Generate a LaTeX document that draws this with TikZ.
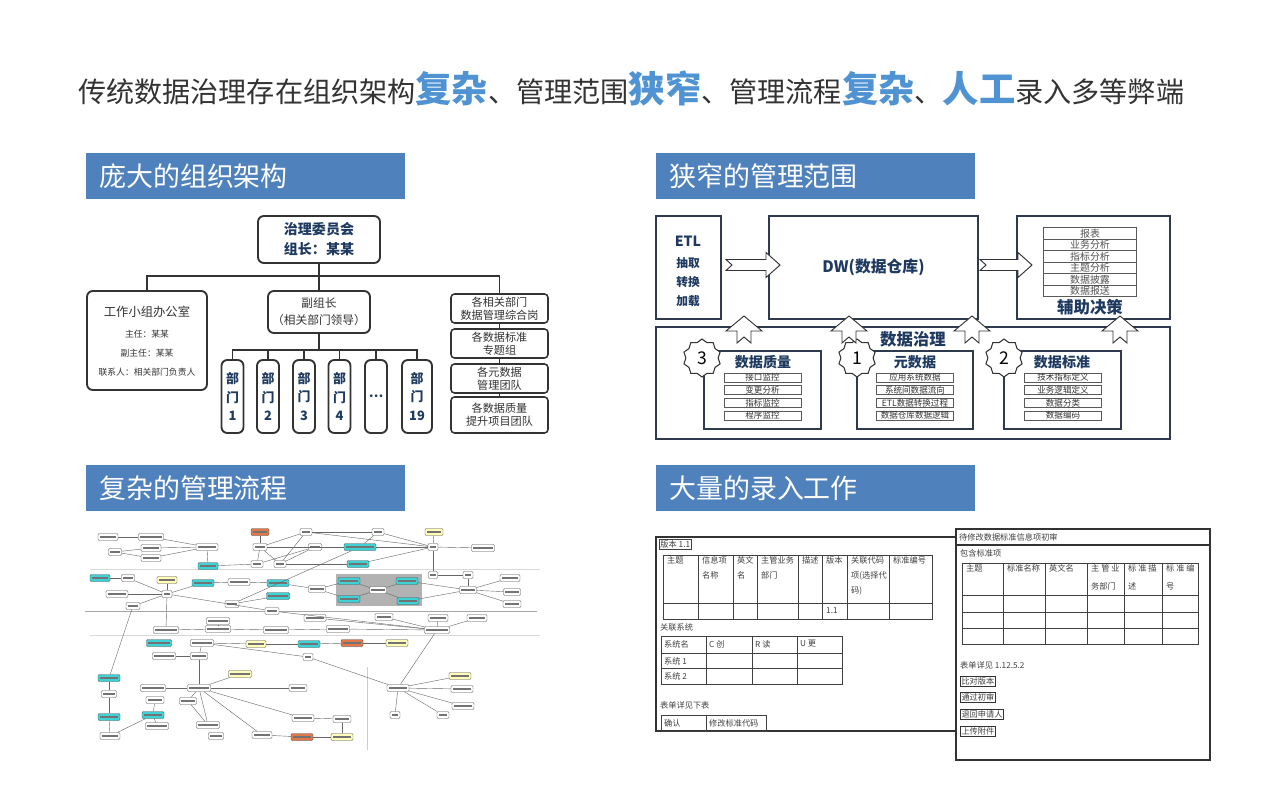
\documentclass[tikz,border=0pt]{standalone}
\usepackage{fontspec}
\setmainfont{Noto Sans CJK SC}
\usetikzlibrary{shapes.geometric,calc}

\def\u{0.03cm}
\definecolor{hdrblue}{HTML}{4F81BD}
\definecolor{ttlblue}{HTML}{4F93D2}
\definecolor{navy}{HTML}{1F3A60}
\definecolor{ink}{HTML}{333333}
\definecolor{boxline}{HTML}{2E3A4E}
\definecolor{flcyan}{HTML}{3ED2D6}
\definecolor{flyellow}{HTML}{FFFFB8}
\definecolor{florange}{HTML}{E0784A}
\newcommand{\hlt}[1]{{\color{ttlblue}\bfseries\fontsize{31}{31}\selectfont #1}}

\tikzset{
  hdrbar/.style={fill=hdrblue, text=white, anchor=north west, minimum height=46*\u,
    text width=293*\u, inner xsep=13*\u, align=left, font=\fontsize{23}{26}\selectfont},
  obox/.style={draw=ink, line width=1.6pt, rounded corners=5pt, fill=white, align=center,
    text=ink, inner sep=0pt},
  oline/.style={draw=ink, line width=1.6pt},
  dbox/.style={obox, text=navy, font=\bfseries\fontsize{11}{15.6}\selectfont,
    minimum height=73*\u, minimum width=22*\u},
  rbox/.style={obox, rounded corners=3pt, line width=1.3pt, minimum width=97*\u,
    minimum height=29*\u, font=\fontsize{9.5}{11}\selectfont},
  tbox/.style={draw=boxline, line width=1.3pt, fill=white, inner sep=0pt},
  navytxt/.style={text=navy, inner sep=0pt},
  gitem/.style={draw=black!65, line width=0.5pt, fill=white, minimum width=77*\u,
    minimum height=9*\u, inner sep=0pt, font=\fontsize{7.3}{8}\selectfont, text=ink},
  ditem/.style={draw=black!65, line width=0.6pt, fill=white, minimum width=93*\u,
    minimum height=11.5*\u, inner sep=0pt, font=\fontsize{8.5}{9}\selectfont, text=ink!85},
  blk/.style={draw=ink, line width=0.8pt, fill=white},
  seal/.style={star, star points=10, star point ratio=1.18, draw=ink, line width=0.9pt,
    fill=white, minimum size=38*\u, inner sep=0pt, font=\fontsize{15}{15}\selectfont},
  fframe/.style={draw=black!80, line width=1.1pt},
  fline/.style={draw=black!75, line width=0.5pt},
  ftxt/.style={font=\fontsize{7}{12.8}\selectfont, text=black!75, anchor=west, inner sep=0pt},
  fhead/.style={ftxt, anchor=north west, align=left},
  fbtn/.style={ftxt, draw=black!80, line width=0.6pt, inner sep=1pt},
  fw/.style={draw=black!70, line width=0.3pt, fill=white, rounded corners=1pt,
    minimum height=7*\u, inner sep=0pt,
    path picture={\draw[black!55, line width=1.3pt]
      ([xshift=1.5pt]path picture bounding box.west) -- ([xshift=-1.5pt]path picture bounding box.east);}},
  fc/.style={fw, fill=flcyan},
  fy/.style={fw, fill=flyellow},
  fo/.style={fw, fill=florange},
  flline/.style={draw=black!60, line width=0.35pt}
}

\begin{document}
\begin{tikzpicture}[x=0.03cm, y=-0.03cm]
  \useasboundingbox (0,0) rectangle (1280,789);
  \fill[white] (0,0) rectangle (1280,789);

  % Title
  \node[anchor=west, text=ink, font=\fontsize{24}{28}\selectfont, inner sep=0pt] (title) at (78,88)
    {传统数据治理存在组织架构\hlt{复杂}、管理范围\hlt{狭窄}、管理流程\hlt{复杂}、\hlt{人工}录入多等弊端};

  % Section bars
  \node[hdrbar] (hdrorg) at (86,153) {庞大的组织架构};
  \node[hdrbar] (hdrscope) at (656,153) {狭窄的管理范围};
  \node[hdrbar] (hdrflow) at (86,465) {复杂的管理流程};
  \node[hdrbar] (hdrentry) at (656,465) {大量的录入工作};

  % Organisation chart
  \node[obox, minimum width=122*\u, minimum height=47*\u, text=navy,
    font=\bfseries\fontsize{12}{17}\selectfont] (board) at (319,239.5) {治理委员会\\组长：某某};
  \node[obox, minimum width=120*\u, minimum height=99*\u] (office) at (147,340.5) {};
  \node[text=ink, font=\fontsize{10.5}{12}\selectfont] (officet) at (147,312) {工作小组办公室};
  \node[text=ink, font=\fontsize{7.5}{9}\selectfont] (officea) at (147,334) {主任：某某};
  \node[text=ink, font=\fontsize{7.5}{9}\selectfont] (officeb) at (147,353) {副主任：某某};
  \node[text=ink, font=\fontsize{7.5}{9}\selectfont] (officec) at (147,372) {联系人：相关部门负责人};
  \node[obox, minimum width=102*\u, minimum height=42*\u, font=\fontsize{10}{14.5}\selectfont]
    (vice) at (319,312) {副组长\\（相关部门领导）};
  \node[dbox] (d1) at (232.5,396.5) {部\\门\\1};
  \node[dbox] (d2) at (268,396.5) {部\\门\\2};
  \node[dbox] (d3) at (304,396.5) {部\\门\\3};
  \node[dbox] (d4) at (339.5,396.5) {部\\门\\4};
  \node[dbox] (d5) at (376,396.5) {…};
  \node[dbox, minimum width=30*\u] (d6) at (417,396.5) {部\\门\\19};
  \node[rbox] (r1) at (499.5,308.5) {各相关部门\\数据管理综合岗};
  \node[rbox] (r2) at (499.5,343.5) {各数据标准\\专题组};
  \node[rbox] (r3) at (499.5,378.5) {各元数据\\管理团队};
  \node[rbox, minimum height=36*\u] (r4) at (499.5,415) {各数据质量\\提升项目团队};

  \coordinate (bus) at (319,276);
  \draw[oline] (board.south) -- (vice.north);
  \draw[oline] (office.north) |- (bus) -| (r1.north);
  \draw[oline] (vice.south) -- ++(0,16) coordinate (dbus);
  \draw[oline] (d1.north) |- (dbus) -| (d6.north);
  \foreach \n in {d2,d3,d4,d5}
    \draw[oline] (\n.north) -- (\n.north |- dbus);
  \draw[oline] (r1) -- (r2);
  \draw[oline] (r2) -- (r3);
  \draw[oline] (r3) -- (r4);

  % Management scope
  \node[tbox, minimum width=65*\u, minimum height=103*\u] (etl) at (688.5,267.5) {};
  \node[navytxt, font=\bfseries\fontsize{12}{12}\selectfont] (etlt) at (688,241) {ETL};
  \node[navytxt, font=\bfseries\fontsize{10}{10}\selectfont] (etla) at (688,263) {抽取};
  \node[navytxt, font=\bfseries\fontsize{10}{10}\selectfont] (etlb) at (688,282) {转换};
  \node[navytxt, font=\bfseries\fontsize{10}{10}\selectfont] (etlc) at (688,301) {加载};
  \node[tbox, minimum width=209*\u, minimum height=103*\u, text=navy,
    font=\bfseries\fontsize{13.5}{14}\selectfont] (dw) at (873.5,267.5) {DW(数据仓库)};
  \node[tbox, minimum width=153*\u, minimum height=103*\u] (dec) at (1093.5,267.5) {};
  \foreach \t [count=\i] in {报表,业务分析,指标分析,主题分析,数据披露,数据报送}
    \node[ditem] (k\i) at (1090,{222+11.5*\i}) {\t};
  \node[navytxt, font=\bfseries\fontsize{14}{14}\selectfont] (dect) at (1090,307) {辅助决策};

  \node[tbox, minimum width=514*\u, minimum height=112*\u] (gov) at (913,383) {};
  \node[navytxt, font=\bfseries\fontsize{14}{14}\selectfont] (govt) at (913,339) {数据治理};
  \node[tbox, minimum width=117*\u, minimum height=78*\u] (qual) at (762.5,390) {};
  \node[tbox, minimum width=116*\u, minimum height=78*\u] (meta) at (915,390) {};
  \node[tbox, minimum width=117*\u, minimum height=78*\u] (std) at (1062.5,390) {};
  \node[navytxt, font=\bfseries\fontsize{12}{12}\selectfont] (qualt) at (763,362) {数据质量};
  \node[navytxt, font=\bfseries\fontsize{12}{12}\selectfont] (metat) at (915,362) {元数据};
  \node[navytxt, font=\bfseries\fontsize{12}{12}\selectfont] (stdt) at (1062,362) {数据标准};
  \foreach \t [count=\i] in {接口监控,变更分析,指标监控,程序监控}
    \node[gitem] (q\i) at (762.5,{365+12.6*\i}) {\t};
  \foreach \t [count=\i] in {应用系统数据,系统间数据流向,ETL数据转换过程,数据仓库数据逻辑}
    \node[gitem] (m\i) at (915,{365+12.6*\i}) {\t};
  \foreach \t [count=\i] in {技术指标定义,业务逻辑定义,数据分类,数据编码}
    \node[gitem] (s\i) at (1063,{365+12.6*\i}) {\t};
  \node[seal] (seal3) at (702,358) {3};
  \node[seal] (seal1) at (857,358) {1};
  \node[seal] (seal2) at (1004,358) {2};

  % Block arrows
  \foreach \a/\b in {726/780, 980/1032}
    \draw[blk] (\a,259.5) -- ({\b-14},259.5) -- ({\b-14},252.5) -- (\b,265) -- ({\b-14},277.5)
      -- ({\b-14},270.5) -- (\a,270.5) -- ({\a+6},265) -- cycle;
  \foreach \c in {744,849,972,1120}
    \draw[blk] (\c,316) -- ({\c+18},331) -- ({\c+7},331) -- ({\c+7},343) -- (\c,337)
      -- ({\c-7},343) -- ({\c-7},331) -- ({\c-18},331) -- cycle;

  % Management flow (texts too small to read)
  \draw[black!15, line width=0.5pt] (90,569) -- (540,569);
  \draw[black!35, line width=0.6pt] (85,611) -- (537,611);
  \draw[black!15, line width=0.5pt] (90,635) -- (540,635);
  \draw[black!20, line width=0.5pt] (367,667) -- (367,750);
  \fill[black!30] (336,574) rectangle (422,606);

  \foreach \n/\x/\y/\w in {f1/108/537/20, f2/151/537/25, f3/115/552/13, f4/151/548/20,
      f5/151/558/20, f6/207/547/22, f9/260/547/14, f10/257/564/12, f11/280/564/12,
      f12/306/532/12, f13/315/547/13, f15/378/532/12, f18/433/547/10, f19/483/548/23,
      f20/433/575/9, f21/468/575/10, f23/128/578/13, f25/167/594/10, f26/117/594/22,
      f27/133/606/14, f29/239/582/22, f32/232/604/14, f33/317/589/17, f36/378/590/17,
      f39/468/590/17, f40/510/578/20, f41/512/592/17, f42/512/604/18, f43/272/611/14,
      f44/166/630/25, f45/218/621/23, f46/218/629/25, f47/276/630/25, f48/338/629/23,
      f49/315/618/22, f50/384/617/18, f51/438/618/20, f52/477/618/20, f53/437/630/25,
      f55/202/643/23, f60/164/656/23, f61/199/656/17, f62/308/657/10, f65/153/688/25,
      f66/199/688/23, f67/298/688/18, f68/398/688/22, f70/462/689/22, f71/463/706/22,
      f72/109/694/15, f73/155/700/18, f74/188/701/17, f77/208/725/23, f78/157/726/23,
      f79/110/736/20, f80/216/736/15, f81/262/735/20, f84/303/718/22, f85/342/719/18,
      f86/395/715/10, f87/443/715/12}
    \node[fw, minimum width=\w*\u] (\n) at (\x,\y) {};
  \foreach \n/\x/\y/\w in {f7/208/566/20, f14/360/547/32, f16/358/564/22, f22/100/578/20,
      f28/203/583/22, f30/278/583/22, f31/278/596/23, f34/349/581/22, f35/349/599/22,
      f37/407/581/22, f38/408/601/22, f54/159/643/25, f57/309/644/22, f63/109/678/22,
      f75/153/715/22, f76/109/717/22}
    \node[fc, minimum width=\w*\u] (\n) at (\x,\y) {};
  \foreach \n/\x/\y/\w in {f17/434/532/18, f24/167/580/20, f56/256/644/20, f59/397/643/22,
      f64/240/674/23, f69/460/676/22, f83/342/737/22}
    \node[fy, minimum width=\w*\u] (\n) at (\x,\y) {};
  \foreach \n/\x/\y/\w in {f8/260/532/18, f58/352/643/22, f82/302/737/22}
    \node[fo, minimum width=\w*\u] (\n) at (\x,\y) {};

  \foreach \a/\b in {f1/f2, f3/f4, f3/f5, f2/f6, f4/f6, f5/f6, f6/f7, f7/f10, f8/f9, f9/f10,
      f9/f11, f9/f12, f9/f13, f10/f13, f11/f12, f11/f13, f12/f15, f13/f14, f9/f14, f11/f16,
      f14/f15, f14/f18, f15/f18, f12/f18, f16/f18, f17/f18, f18/f19, f18/f20, f20/f21,
      f21/f39, f22/f23, f23/f25, f24/f25, f25/f26, f25/f27, f25/f28, f25/f44, f28/f29,
      f29/f30, f30/f33, f31/f32, f32/f14, f33/f34, f33/f35, f34/f36, f35/f36, f36/f37,
      f36/f38, f37/f39, f38/f39, f39/f40, f39/f41, f39/f42, f25/f43, f43/f53, f44/f46,
      f45/f46, f46/f47, f47/f48, f48/f53, f49/f53, f50/f53, f51/f53, f52/f53, f53/f68,
      f55/f56, f55/f61, f56/f57, f57/f58, f58/f59, f55/f62, f62/f68, f61/f66, f60/f61,
      f64/f66, f65/f66, f66/f67, f66/f74, f66/f77, f66/f81, f66/f84, f84/f85, f85/f83,
      f81/f82, f82/f83, f63/f72, f72/f76, f76/f79, f75/f73, f75/f78, f75/f79, f27/f63,
      f74/f77, f68/f69, f68/f70, f68/f71, f68/f86, f68/f87}
    \draw[flline] (\a) -- (\b);

  % Data entry forms
  \draw[fframe] (656,537) rectangle (956,731);
  \node[ftxt, draw=black!75, line width=0.5pt, inner sep=1pt] (ver) at (659,544) {版本 1.1};
  \draw[fline] (663,555) rectangle (932,619);
  \draw[fline] (663,603) -- (932,603);
  \foreach \x in {698,733,757,798,822,847,889}
    \draw[fline] (\x,555) -- (\x,619);
  \foreach \x/\t in {667/主题, 702/{信息项\\名称}, 737/{英文\\名}, 761/{主管业务\\部门},
      802/描述, 826/版本, 851/{关联代码\\项(选择代\\码)}, 893/标准编号}
    \node[fhead] at (\x,556) {\t};
  \node[ftxt] (verno) at (826,611) {1.1};
  \node[ftxt] (syslbl) at (660,627) {关联系统};
  \draw[fline] (661,636) rectangle (842,684);
  \draw[fline] (661,653) -- (842,653);
  \draw[fline] (661,668) -- (842,668);
  \foreach \x in {706,752,797}
    \draw[fline] (\x,636) -- (\x,684);
  \foreach \x/\t in {664/系统名, 709/C 创, 755/R 读, 800/U 更}
    \node[ftxt] at (\x,644) {\t};
  \node[ftxt] (sys1) at (664,661) {系统 1};
  \node[ftxt] (sys2) at (664,676) {系统 2};
  \node[ftxt] (formlbl) at (660,705) {表单详见下表};
  \draw[fline] (661,715) rectangle (766,731);
  \draw[fline] (706,715) -- (706,731);
  \node[ftxt] (ok) at (664,723) {确认};
  \node[ftxt] (edit) at (709,723) {修改标准代码};

  \draw[fframe, fill=white] (956,529) rectangle (1210,760);
  \draw[fframe] (956,529) rectangle (1210,545);
  \node[ftxt] (reviewt) at (959,537) {待修改数据标准信息项初审};
  \node[ftxt] (stdlbl) at (960,553) {包含标准项};
  \draw[fline] (962,563) rectangle (1198,644);
  \foreach \y in {595,612,628}
    \draw[fline] (962,\y) -- (1198,\y);
  \foreach \x in {1003,1045,1087,1124,1162}
    \draw[fline] (\x,563) -- (\x,644);
  \foreach \x/\t in {966/主题, 1007/标准名称, 1049/英文名, 1091/{主 管 业\\务部门},
      1128/{标 准 描\\述}, 1166/{标 准 编\\号}}
    \node[fhead, font=\fontsize{7}{16}\selectfont] at (\x,564) {\t};
  \node[ftxt] (formref) at (960,665) {表单详见 1.12.5.2};
  \node[fbtn] (cmpbtn) at (960,681) {比对版本};
  \node[fbtn] (passbtn) at (960,697.5) {通过初审};
  \node[fbtn] (backbtn) at (960,714) {退回申请人};
  \node[fbtn] (upbtn) at (960,731.5) {上传附件};
\end{tikzpicture}
\end{document}
